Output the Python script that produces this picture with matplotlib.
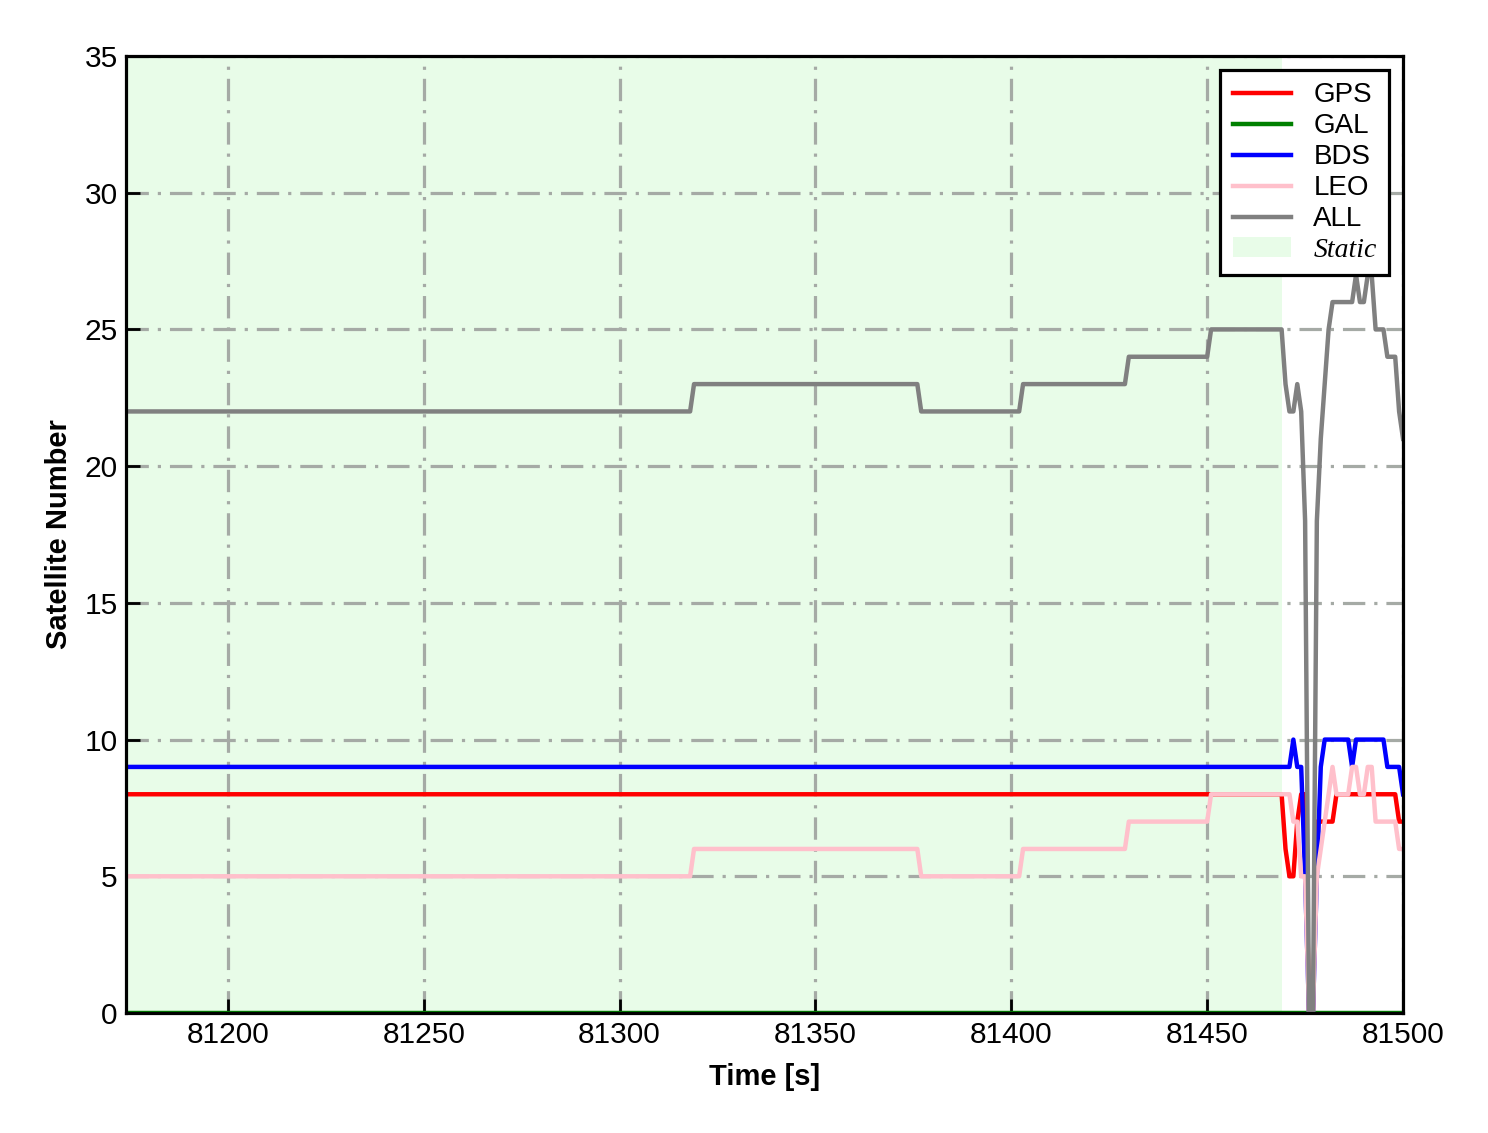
import matplotlib
matplotlib.use("Agg")
import matplotlib.pyplot as plt

plt.rcParams["font.family"] = ["Liberation Sans", "DejaVu Sans"]

# ---- data (breakpoints of the static part + per-second tail) ----
static_end = 81469

t_gps = [81174, 81469]
v_gps = [8, 8]
t_bds = [81174, 81469]
v_bds = [9, 9]
t_gal = [81174, 81500]
v_gal = [0, 0]
t_leo = [81174, 81318, 81319, 81376, 81377, 81402, 81403, 81429, 81430, 81450, 81451, 81469]
v_leo = [5, 5, 6, 6, 5, 5, 6, 6, 7, 7, 8, 8]
t_all = t_leo
v_all = [22, 22, 23, 23, 22, 22, 23, 23, 24, 24, 25, 25]

t_tail = [81470, 81471, 81472, 81473, 81474, 81475, 81476, 81477, 81478, 81479,
          81480, 81481, 81482, 81483, 81484, 81485, 81486, 81487, 81488, 81489,
          81490, 81491, 81492, 81493, 81494, 81495, 81496, 81497, 81498, 81499, 81500]
gps_tail = [6, 5, 5, 7, 8, 8, 0, 0, 7, 7, 7, 7, 7, 8, 8, 8, 8, 8, 8, 8,
            8, 8, 8, 8, 8, 8, 8, 8, 8, 7, 7]
bds_tail = [9, 9, 10, 9, 9, 5, 0, 0, 5, 9, 10, 10, 10, 10, 10, 10, 10, 9, 10, 10,
            10, 10, 10, 10, 10, 10, 9, 9, 9, 9, 8]
leo_tail = [8, 8, 7, 7, 5, 5, 0, 0, 5, 6, 7, 8, 9, 8, 8, 8, 8, 9, 9, 8,
            8, 9, 9, 7, 7, 7, 7, 7, 7, 6, 6]
all_tail = [23, 22, 22, 23, 22, 18, 0, 0, 18, 21, 23, 25, 26, 26, 26, 26, 26, 26, 27, 26,
            26, 27, 27, 25, 25, 25, 24, 24, 24, 22, 21]

series = [
    ("GPS", t_gps + t_tail, v_gps + gps_tail, "r"),
    ("GAL", t_gal, v_gal, "g"),
    ("BDS", t_bds + t_tail, v_bds + bds_tail, "b"),
    ("LEO", t_leo + t_tail, v_leo + leo_tail, "pink"),
    ("ALL", t_all + t_tail, v_all + all_tail, "gray"),
]

fig = plt.figure(figsize=(14.88, 11.33), dpi=100)
ax = fig.add_axes([0.0847, 0.1059, 0.8582, 0.8447])

ax.axvspan(81174, static_end, color="#e8fce8", lw=0, zorder=0, label="Static")
for name, t, v, c in series:
    ax.plot(t, v, color=c, lw=3.2, label=name, zorder=3)

ax.set_xlim(81174, 81500)
ax.set_ylim(0, 35)
ax.set_xticks(range(81200, 81501, 50))
ax.set_yticks(range(0, 36, 5))
ax.grid(True, color="#a5aaa5", lw=2.3, linestyle=(0, (7, 2.8, 1, 2.8)), zorder=1)
ax.set_axisbelow(True)
ax.tick_params(direction="in", length=10, width=2, labelsize=21.5, pad=6)
for sp in ax.spines.values():
    sp.set_linewidth(2.3)
    sp.set_zorder(5)

ax.set_xlabel("Time [s]", fontsize=21, fontweight="bold", labelpad=10)
ax.set_ylabel("Satellite Number", fontsize=21, fontweight="bold", labelpad=8)

handles, labels = ax.get_legend_handles_labels()
order = [1, 2, 3, 4, 5, 0]
leg = ax.legend([handles[i] for i in order], [labels[i] for i in order],
                loc="upper right", fontsize=20, fancybox=False, framealpha=1,
                edgecolor="black", handlelength=2.1, labelspacing=0.18,
                borderaxespad=0.5, handletextpad=0.8, borderpad=0.45)
leg.get_frame().set_linewidth(2.3)
leg.set_zorder(10)
st = leg.get_texts()[5]
st.set_fontfamily("Liberation Serif")
st.set_fontstyle("italic")

fig.savefig("out.png", dpi=100)
